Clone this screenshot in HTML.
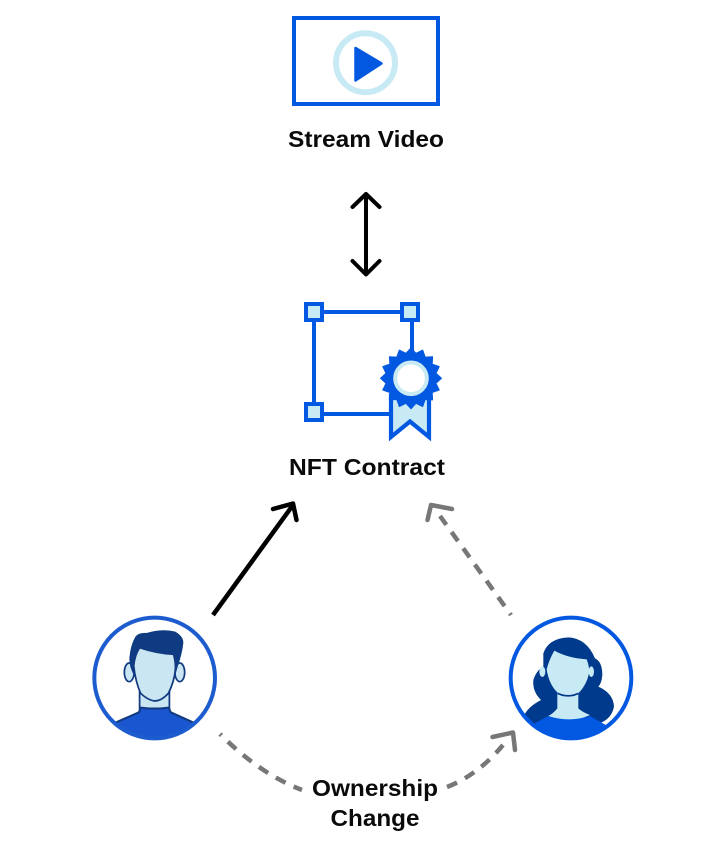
<!DOCTYPE html>
<html><head><meta charset="utf-8"><style>
html,body{margin:0;padding:0;background:#fff}
svg{display:block}
text{font-family:"Liberation Sans",sans-serif;font-weight:700;font-size:23px;fill:#0a0a0a}
</style></head><body>
<svg width="728" height="842" viewBox="0 0 728 842" xmlns="http://www.w3.org/2000/svg">
<defs>
<clipPath id="cm"><circle cx="149" cy="159" r="181"/></clipPath>
<clipPath id="cw"><circle cx="153" cy="144" r="181"/></clipPath>
</defs>
<rect width="728" height="842" fill="#fff"/>
<!-- video -->
<rect x="294" y="18" width="144" height="86" fill="#fff" stroke="#0258e0" stroke-width="4"/>
<circle cx="365.500" cy="62.700" r="29.500" fill="#fff" stroke="#c8eaf4" stroke-width="6"/>
<path d="M355.500 48 L381.500 63.400 L355.500 80.500 Z" fill="#0258e0" stroke="#0258e0" stroke-width="2.500" stroke-linejoin="round"/>
<text x="366" y="147" text-anchor="middle" textLength="156" lengthAdjust="spacingAndGlyphs">Stream Video</text>
<!-- double arrow -->
<g fill="none" stroke="#000" stroke-width="4" stroke-linecap="round" stroke-linejoin="round">
<path d="M366 194.500V274M352.500 207L366 194L379.500 207M352.500 261L366 274.500L379.500 261"/>
</g>
<!-- NFT -->
<g fill="none" stroke="#0258e0" stroke-width="4">
<path d="M314 312H410M314 312V412M314 414H392M412 312V360"/>
</g>
<g fill="#c8eaf4" stroke="#0258e0" stroke-width="4">
<rect x="306" y="304" width="16" height="16"/>
<rect x="402" y="304" width="16" height="16"/>
<rect x="306" y="404" width="16" height="16"/>
<path d="M391 396V437L410 421.500L429 437V396Z" stroke-width="4.200"/>
</g>
<g transform="translate(411,378.300)">
<polygon fill="#0258e0" stroke="#0258e0" stroke-width="1" stroke-linejoin="round" points="30.500,0 25,5 28.200,11.700 21.200,14.200 21.600,21.600 14.200,21.200 11.700,28.200 5,25 0,30.500 -5,25 -11.700,28.200 -14.200,21.200 -21.600,21.600 -21.200,14.200 -28.200,11.700 -25,5 -30.500,0 -25,-5 -28.200,-11.700 -21.200,-14.200 -21.600,-21.600 -14.200,-21.200 -11.700,-28.200 -5,-25 0,-30.500 5,-25 11.700,-28.200 14.200,-21.200 21.600,-21.600 21.200,-14.200 28.200,-11.700 25,-5"/>
<circle r="15.800" fill="#fff" stroke="#c8eaf4" stroke-width="4"/>
</g>
<text x="367" y="475" text-anchor="middle" textLength="156" lengthAdjust="spacingAndGlyphs">NFT Contract</text>
<!-- black arrow -->
<g fill="none" stroke="#000" stroke-width="4.500" stroke-linejoin="round">
<path d="M213 615L293 505"/>
<path d="M273 509L293 503.500L296.500 520" stroke-linecap="round"/>
</g>
<!-- gray arrows -->
<g fill="none" stroke="#777" stroke-width="4.500">
<path d="M511 615L440 516" stroke-dasharray="11 9" stroke-dashoffset="9"/>
<path d="M427.500 520L431 505L452 509" stroke-linecap="round" stroke-linejoin="round"/>
<path d="M220 734Q260 774 302 790" stroke-dasharray="11 9" stroke-dashoffset="9"/>
<path d="M447 787Q478 775 503 745" stroke-dasharray="11 9"/>
<path d="M492.500 737L513 732.500L515 750" stroke-linecap="round" stroke-linejoin="round"/>
</g>
<!-- man -->
<g transform="translate(105,625) scale(.33333)">
<circle cx="149" cy="159" r="181" fill="#fff"/>
<g clip-path="url(#cm)">
<g transform="translate(148.500,0) scale(1.040,1) translate(-145,0)">
<path d="M102 195V250H188V195Z" fill="#c9e6f2" stroke="#123a80" stroke-width="5"/>
<path d="M32 293L100 262L105 248Q145 254 186 248L192 262L262 295V360H32Z" fill="#1a56cf"/>
<path d="M32 293L100 262L105 248Q145 254 186 248L192 262L262 295" fill="none" stroke="#123a80" stroke-width="6"/>
<ellipse cx="72" cy="142" rx="14" ry="28" fill="#c9e6f2" stroke="#123a80" stroke-width="5"/>
<ellipse cx="218" cy="142" rx="14" ry="28" fill="#c9e6f2" stroke="#123a80" stroke-width="5"/>
<path d="M85 150Q70 120 73 95Q76 60 90 35Q100 22 122 24Q170 10 205 20Q230 35 228 55Q225 85 212 125L205 150Z" fill="#0f3b82"/>
<path d="M85 122Q88 90 102 68Q150 85 200 88Q207 115 205 135Q202 170 185 205Q165 228 145 228Q125 225 105 205Q90 170 85 122Z" fill="#c9e6f2" stroke="#123a80" stroke-width="5"/>
</g>
</g>
<circle cx="149" cy="159" r="181" fill="none" stroke="#1d5ccf" stroke-width="12"/>
</g>
<!-- woman -->
<g transform="translate(520,630) scale(.33333)">
<circle cx="153" cy="144" r="181" fill="#fff"/>
<g clip-path="url(#cw)">
<g transform="translate(-5,0)">
<path d="M75 70Q90 25 150 22Q205 25 230 85Q252 95 252 135Q250 160 240 170Q285 190 287 230Q280 265 248 278L262 320H20L18 255Q30 230 68 210Q42 185 45 150Q55 120 75 110Z" fill="#003a8c"/>
<path d="M117 190V235Q105 250 90 258Q150 285 215 255Q190 245 180 235V190Z" fill="#c8eaf4"/>
<path d="M40 285L90 258Q150 278 215 258L262 285V360H40Z" fill="#0258e0"/>
<ellipse cx="72" cy="125" rx="9" ry="16" fill="#c8eaf4"/>
<ellipse cx="219" cy="125" rx="8" ry="16" fill="#c8eaf4"/>
<path d="M85 118Q92 90 108 62Q150 85 205 88Q214 110 212 130Q205 165 180 190Q150 205 120 190Q92 165 85 118Z" fill="#c8eaf4"/>
<path d="M118 190Q150 205 180 190" fill="none" stroke="#003a8c" stroke-width="5"/>
</g>
</g>
<circle cx="153" cy="144" r="181" fill="none" stroke="#0258e0" stroke-width="12"/>
</g>
<text x="375" y="796" text-anchor="middle" textLength="126" lengthAdjust="spacingAndGlyphs">Ownership</text>
<text x="375" y="826" text-anchor="middle" textLength="89" lengthAdjust="spacingAndGlyphs">Change</text>
</svg>
</body></html>
